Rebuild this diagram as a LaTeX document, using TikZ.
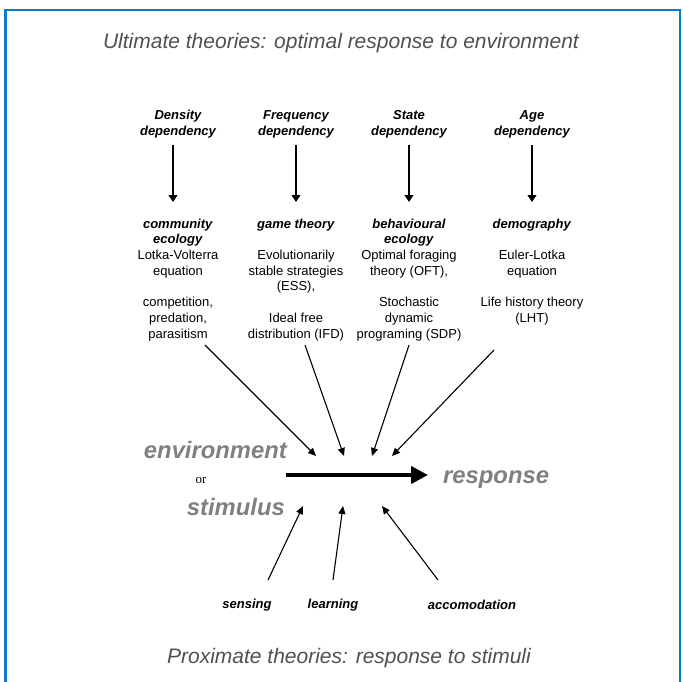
\documentclass[tikz,border=0pt]{standalone}
\usepackage{fontspec}
\setsansfont{Liberation Sans}
\newfontfamily\serifor{Liberation Serif}
\usetikzlibrary{arrows.meta}
\definecolor{frameblue}{RGB}{10,125,200}
\definecolor{titlegray}{RGB}{80,80,80}
\definecolor{biggray}{RGB}{128,128,128}
\newcommand\bi[1]{\textbf{\textit{#1}}}
\tikzset{
  title/.style={font=\fontsize{21}{24}\selectfont\sffamily\itshape, text=titlegray, inner sep=0},
  head/.style={font=\fontsize{13}{16}\selectfont\sffamily\bfseries\itshape, align=center, inner sep=0},
  body/.style={font=\fontsize{13}{15.7}\selectfont\sffamily, align=center, inner sep=0, anchor=north},
  big/.style={font=\fontsize{23.8}{26}\selectfont\sffamily\bfseries\itshape, text=biggray, inner sep=0},
  lab/.style={font=\fontsize{13}{15}\selectfont\sffamily\bfseries\itshape, inner sep=0},
  thin/.style={line width=1.1pt, -{Triangle[length=8pt,width=7pt]}},
  vert/.style={line width=1.1pt, -{Triangle[length=7pt,width=9pt]}},
  mainarrow/.style={line width=4pt, -{Triangle[length=17pt,width=17pt]}}
}
\begin{document}
\begin{tikzpicture}[x=1pt,y=-1pt]
\useasboundingbox (0,0) rectangle (683,682);
\draw[frameblue, line width=2.5pt] (5.5,682) -- (5.5,10) -- (680,10) -- (680,682);

\node[title] (top) at (341,43.5) {Ultimate theories: optimal response to environment};
\node[title] (bottom) at (349,658.5) {Proximate theories: response to stimuli};

\node[head] (h1) at (178,124) {Density\\dependency};
\node[head] (h2) at (296,124) {Frequency\\dependency};
\node[head] (h3) at (409,124) {State\\dependency};
\node[head] (h4) at (532,124) {Age\\dependency};

\coordinate (a1s) at (173,145); \coordinate (a1e) at (173,202);
\coordinate (a2s) at (296,145); \coordinate (a2e) at (296,202);
\coordinate (a3s) at (409,145); \coordinate (a3e) at (409,202);
\coordinate (a4s) at (532,145); \coordinate (a4e) at (532,202);
\foreach \i in {1,2,3,4} \draw[vert] (a\i s) -- (a\i e);

\node[body] (c1) at (178,218.5) {\bi{community}\\\bi{ecology}\\Lotka-Volterra\\equation\\[15.7pt]competition,\\predation,\\parasitism};
\node[body] (c2) at (296,218.5) {\bi{game theory}\\[15.7pt]Evolutionarily\\stable strategies\\(ESS),\\[15.7pt]Ideal free\\distribution (IFD)};
\node[body] (c3) at (409,218.5) {\bi{behavioural}\\\bi{ecology}\\Optimal foraging\\theory (OFT),\\[15.7pt]Stochastic\\dynamic\\programing (SDP)};
\node[body] (c4) at (532,218.5) {\bi{demography}\\[15.7pt]Euler-Lotka\\equation\\[15.7pt]Life history theory\\(LHT)};

\node[big, anchor=east] (env) at (287,450) {environment};
\node[font=\fontsize{13}{15}\selectfont\serifor, inner sep=0] (or) at (201,480) {or};
\node[big, anchor=east] (stim) at (285,507) {stimulus};
\node[big, anchor=west] (resp) at (443,480) {response};
\coordinate (ms) at (286,475);
\coordinate (me) at (428,475);
\draw[mainarrow] (ms) -- (me);

\coordinate (d1s) at (205,345); \coordinate (d1e) at (316,456);
\coordinate (d2s) at (305,345); \coordinate (d2e) at (344,456);
\coordinate (d3s) at (409,345); \coordinate (d3e) at (372,456);
\coordinate (d4s) at (494,350); \coordinate (d4e) at (392,456);
\foreach \i in {1,2,3,4} \draw[thin] (d\i s) -- (d\i e);

\node[lab] (sens) at (247,605) {sensing};
\node[lab] (learn) at (333,605) {learning};
\node[lab] (acc) at (472,605) {accomodation};
\coordinate (u1s) at (268,580); \coordinate (u1e) at (303,506);
\coordinate (u2s) at (333,580); \coordinate (u2e) at (343,506);
\coordinate (u3s) at (438,580); \coordinate (u3e) at (382,506);
\foreach \i in {1,2,3} \draw[thin] (u\i s) -- (u\i e);
\end{tikzpicture}
\end{document}
